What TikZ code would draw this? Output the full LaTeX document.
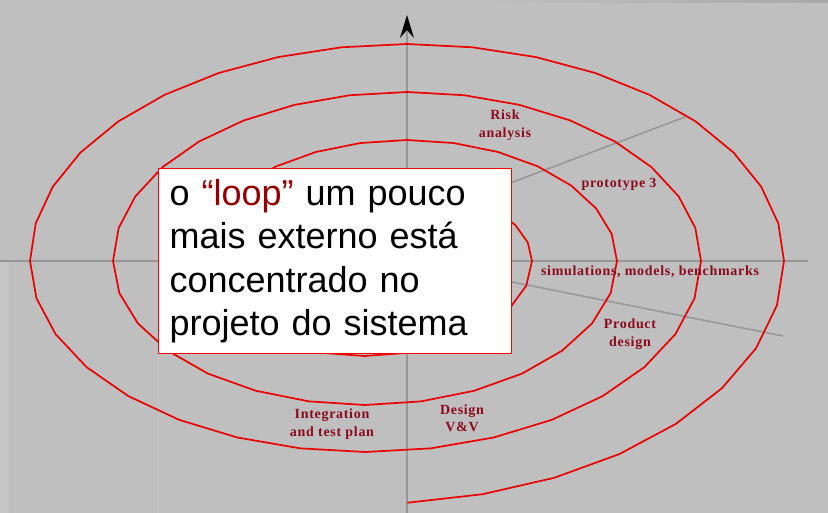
\documentclass[tikz,border=0pt]{standalone}
\usepackage{fontspec}
\setmainfont{Liberation Sans}
\newfontfamily\labfont[LetterSpace=5]{Liberation Serif}
\usetikzlibrary{arrows.meta}
\definecolor{bg}{RGB}{191,191,191}
\definecolor{bgdark}{RGB}{168,168,168}
\definecolor{bglight}{RGB}{198,198,198}
\definecolor{axisgray}{RGB}{150,150,150}
\definecolor{spiralred}{RGB}{235,0,0}
\definecolor{labred}{RGB}{140,10,30}
\definecolor{loopred}{RGB}{150,0,0}
\begin{document}
\begin{tikzpicture}[x=1pt,y=-1pt,
  spiral/.style={spiralred, line width=1.7pt, line join=round},
  axisline/.style={axisgray, line width=1.5pt},
  lab/.style={text=labred, font=\labfont\bfseries\fontsize{14}{17.5}\selectfont, align=center, inner sep=0pt}]
\useasboundingbox (0,0) rectangle (828,513);
\fill[bg] (0,0) rectangle (828,513);
\shade[left color=bg, right color=bgdark] (490,0) rectangle (828,3);
\fill[bglight] (0,262) rectangle (9,513);
\draw[bglight, line width=0.8pt] (158,262) -- (158,513);
% axes
\coordinate (O) at (407,261);
\coordinate (hl) at (0,261);
\coordinate (hr) at (808,261);
\coordinate (vb) at (407,513);
\coordinate (vt) at (407,15);
\coordinate (d1s) at (460,202);
\coordinate (d1e) at (685,117);
\coordinate (d2e) at (783,336);
\draw[axisline] (hl) -- (hr);
\draw[axisline, -{Stealth[length=23pt, width=14pt, inset=8pt, color=black]}] (vb) -- (vt);
\draw[axisline] (d1s) -- (d1e);
\draw[axisline] (O) -- (d2e);
% spiral
\draw[spiral]
  plot[domain=180:0, samples=13] ({407+125*cos(\x)},{261-72*sin(\x)})
  -- plot[domain=0:-180, samples=13] ({364.5+167.5*cos(\x)},{261-95*sin(\x)})
  -- plot[domain=180:0, samples=15] ({407+210*cos(\x)},{261-121*sin(\x)})
  -- plot[domain=0:-180, samples=15] ({365+252*cos(\x)},{261-144*sin(\x)})
  -- plot[domain=180:0, samples=17] ({407+294*cos(\x)},{261-169*sin(\x)})
  -- plot[domain=0:-180, samples=17] ({365.5+335.5*cos(\x)},{261-191*sin(\x)})
  -- plot[domain=180:0, samples=19] ({407+377*cos(\x)},{261-217*sin(\x)})
  -- plot[domain=0:-84.2, samples=9] ({365+419*cos(\x)},{261-243*sin(\x)});
% labels
\node[lab] (risk) at (505,125) {Risk\\analysis};
\node[lab] (proto) at (619,184) {prototype 3};
\node[lab] (sim) at (650,272) {simulations, models, benchmarks};
\node[lab] (prod) at (630,334) {Product\\design};
\node[lab] (integ) at (332,424) {Integration\\and test plan};
\node[lab] (vv) at (462,418) {Design\\V\&V};
% callout
\node[draw=red, line width=1.2pt, fill=white, anchor=north west,
      minimum width=353pt, minimum height=185pt, text width=331pt,
      inner xsep=11pt, inner ysep=0pt, align=left,
      font=\fontsize{36}{43.3}\selectfont] (box) at (158,168)
  {o {\color{loopred}“loop”} um pouco\\mais externo está\\concentrado no\\projeto do sistema};
\end{tikzpicture}
\end{document}
